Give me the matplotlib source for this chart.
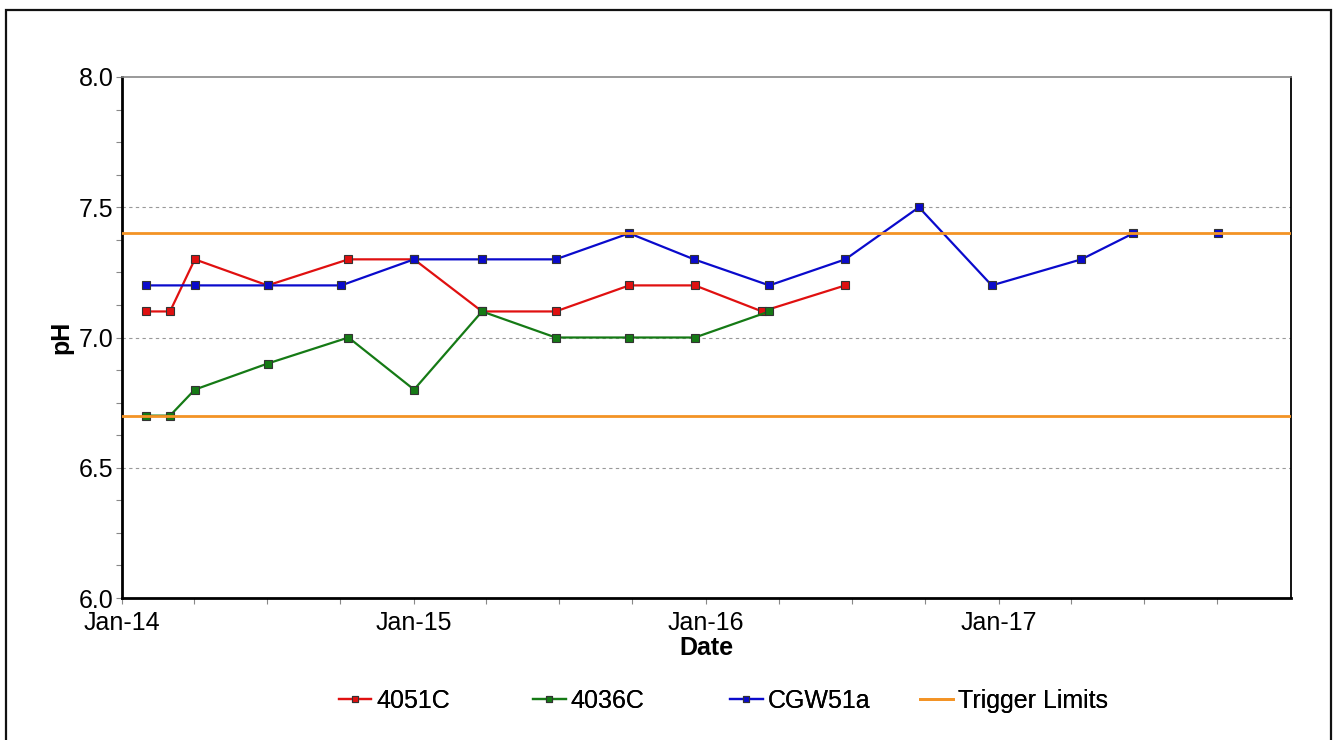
import numpy as np
import matplotlib
matplotlib.use("Agg")
import matplotlib.pyplot as plt
import matplotlib.dates as mdates
import matplotlib.ticker as mticker
from matplotlib.patches import Rectangle

plt.rcParams['font.family'] = ['Liberation Sans', 'DejaVu Sans']

# 4051C
dates_4051 = ["2014-01-31", "2014-03-02", "2014-04-02", "2014-07-02", "2014-10-11", "2015-01-01",
              "2015-03-27", "2015-06-27", "2015-09-27", "2015-12-18", "2016-03-11", "2016-06-23"]
ph_4051 = [7.1, 7.1, 7.3, 7.2, 7.3, 7.3, 7.1, 7.1, 7.2, 7.2, 7.1, 7.2]

# 4036C
dates_4036 = ["2014-01-31", "2014-03-02", "2014-04-02", "2014-07-02", "2014-10-11", "2015-01-01",
              "2015-03-27", "2015-06-27", "2015-09-27", "2015-12-18", "2016-03-20"]
ph_4036 = [6.7, 6.7, 6.8, 6.9, 7.0, 6.8, 7.1, 7.0, 7.0, 7.0, 7.1]

# CGW51a (gap before the last sample)
dates_cgw = ["2014-01-31", "2014-04-02", "2014-07-02", "2014-10-02", "2015-01-01", "2015-03-27",
             "2015-06-27", "2015-09-27", "2015-12-17", "2016-03-20", "2016-06-23", "2016-09-23",
             "2016-12-23", "2017-04-14", "2017-06-18", "2017-08-10", "2017-10-02"]
ph_cgw = [7.2, 7.2, 7.2, 7.2, 7.3, 7.3, 7.3, 7.4, 7.3, 7.2, 7.3, 7.5, 7.2, 7.3, 7.4, np.nan, 7.4]

trigger_limits = [6.7, 7.4]
x_range = ["2014-01-01", "2018-01-01"]
year_ticks = ["2014-01-01", "2015-01-01", "2016-01-01", "2017-01-01"]

FS = 18

fig = plt.figure(figsize=(13.37, 7.40), dpi=100)
ax = fig.add_axes([122/1337, 1 - 598/740, (1291-122)/1337, (598-77)/740])

def d(lst):
    return np.array(lst, dtype="datetime64[D]")

mk = dict(marker="s", markersize=5.5, markeredgecolor="#333333", markeredgewidth=0.8, linewidth=1.6)
h1, = ax.plot(d(dates_4051), ph_4051, color="#E01010", markerfacecolor="#E01010", label="4051C", zorder=3, **mk)
h2, = ax.plot(d(dates_4036), ph_4036, color="#157A15", markerfacecolor="#157A15", label="4036C", zorder=3, **mk)
h3, = ax.plot(d(dates_cgw), ph_cgw, color="#0A0ACC", markerfacecolor="#0A0ACC", label="CGW51a", zorder=3, **mk)
tl = [ax.axhline(t, color="#F39325", linewidth=2.0, zorder=4) for t in trigger_limits]

ax.set_xlim(d(x_range)[0], d(x_range)[1])
ax.set_ylim(6.0, 8.0)
ax.set_yticks([6.0, 6.5, 7.0, 7.5, 8.0])
ax.set_yticks(np.arange(6.0, 8.0, 0.125), minor=True)
ax.yaxis.set_major_formatter(mticker.FormatStrFormatter("%.1f"))
ax.set_xticks(mdates.date2num(d(year_ticks)))
ax.xaxis.set_minor_locator(mdates.MonthLocator(bymonth=[4, 7, 10]))
ax.xaxis.set_major_formatter(mdates.DateFormatter("%b-%y"))
ax.tick_params(axis="x", which="major", labelsize=FS, length=4, width=0.8, color="#888888", pad=5)
ax.tick_params(axis="y", which="major", labelsize=FS, length=4, width=0.8, color="#888888", pad=2)
ax.tick_params(axis="both", which="minor", length=4, width=0.8, color="#888888")

for y in [6.5, 7.0, 7.5]:
    ax.axhline(y, color="#999999", linestyle=(0, (3, 3)), linewidth=0.8, zorder=1)

ax.spines["left"].set_linewidth(2)
ax.spines["bottom"].set_linewidth(2)
ax.spines["right"].set_linewidth(1.3)
ax.spines["top"].set_color("#888888")
ax.spines["top"].set_linewidth(1.2)

ax.set_xlabel("Date", fontsize=FS, fontweight="bold", labelpad=1)
ax.set_ylabel("pH", fontsize=FS, fontweight="bold", labelpad=4)

# legend entries on an even grid, like the reference
entries = [(h1, "4051C", 339), (h2, "4036C", 533), (h3, "CGW51a", 730), (tl[0], "Trigger Limits", 920)]
for h, lab, xpx in entries:
    fig.add_artist(fig.legend([h], [lab], loc="center left", bbox_to_anchor=(xpx/1337, 1 - 701/740),
                              frameon=False, fontsize=FS, handlelength=1.3, handletextpad=0.2,
                              borderpad=0, borderaxespad=0, markerscale=0.8))

fig.patches.append(Rectangle((6/1337, -0.02), (1331-6)/1337, 0.02 + (740-10)/740,
                             transform=fig.transFigure, fill=False, edgecolor="#111111",
                             linewidth=1.6))

fig.savefig("out.png", dpi=100)
